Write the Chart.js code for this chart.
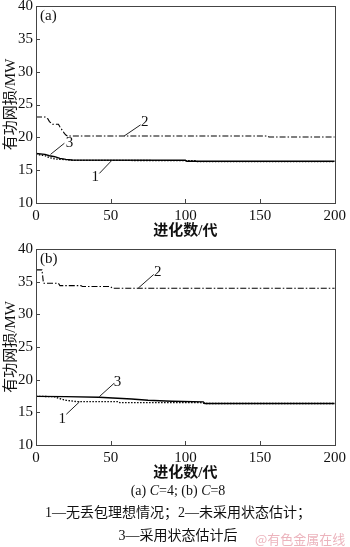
<!DOCTYPE html>
<html>
<head>
<meta charset="utf-8">
<script src="https://cdn.jsdelivr.net/npm/chart.js@4.4.0/dist/chart.umd.min.js"></script>
<style>
body { margin: 0; background: #fff; width: 350px; height: 547px; overflow: hidden; position: relative; }
canvas { position: absolute; left: 0; }
.cap { position: absolute; left: 0; width: 356px; text-align: center; font-family: 'Liberation Serif', 'Noto Sans CJK SC', serif; font-size: 14px; color: #111; line-height: 18px; white-space: nowrap; }
.mark { position: absolute; left: 255px; top: 529px; font-family: 'Noto Sans CJK SC', sans-serif; font-size: 13px; color: #ecb4bd; }
</style>
</head>
<body>
<canvas id="chartA" width="350" height="253" style="top:-10px"></canvas>
<canvas id="chartB" width="350" height="252" style="top:233px"></canvas>
<div class="cap" style="top:482px">(a) <i>C</i>=4; (b) <i>C</i>=8</div>
<div class="cap" style="top:504px">1—无丢包理想情况；2—未采用状态估计；</div>
<div class="cap" style="top:527px">3—采用状态估计后</div>
<div class="mark">@有色金属在线</div>
<script>
const ticksX = [0, 50, 100, 150, 200];
const ticksY = [10, 15, 20, 25, 30, 35, 40];

// (a) C=4
const genA1 = [0, 3, 6, 9, 13, 20, 25, 107, 108, 200];
const lossA1 = [17.5, 17.3, 17.2, 16.9, 16.7, 16.6, 16.5, 16.45, 16.3, 16.3];
const genA2 = [0, 6, 8, 9, 11, 15, 16, 17.5, 19, 20, 21, 155, 156, 200];
const lossA2 = [23.1, 23.1, 22.8, 22.4, 22.0, 22.0, 21.6, 21.1, 20.6, 20.35, 20.2, 20.2, 20.05, 20.05];
const genA3 = [0, 6, 9, 12.5, 16, 20, 24, 100, 101, 200];
const lossA3 = [17.55, 17.4, 17.2, 17.05, 16.8, 16.65, 16.55, 16.5, 16.35, 16.35];

// (b) C=8
const genB1 = [0, 12, 15, 20, 27, 55, 56, 110, 113, 200];
const lossB1 = [17.45, 17.4, 17.15, 16.85, 16.65, 16.65, 16.5, 16.5, 16.35, 16.35];
const genB2 = [0, 4, 5, 15, 16, 30, 31, 50, 51, 200];
const lossB2 = [36.8, 36.8, 34.75, 34.75, 34.4, 34.4, 34.25, 34.25, 34.0, 34.0];
const genB3 = [0, 20, 42, 64, 75, 91, 112, 113, 200];
const lossB3 = [17.45, 17.4, 17.3, 17.05, 16.85, 16.7, 16.6, 16.35, 16.35];

// curve labels: text, label point, leader start, leader end (data units)
const notesA = [
    { text: '2', at: [72.8, 22.4], from: [59, 20.2], to: [70, 21.9] },
    { text: '3', at: [22.5, 19.1], from: [9.7, 17.4], to: [19, 19.1] },
    { text: '1', at: [39.7, 14.0], from: [42.4, 14.5], to: [50.8, 16.5] }
];
const notesB = [
    { text: '2', at: [81.5, 36.4], from: [68.4, 34.0], to: [78.8, 36.1] },
    { text: '3', at: [54.5, 19.7], from: [42.4, 17.4], to: [52.3, 19.45] },
    { text: '1', at: [17.5, 14.0], from: [20.3, 14.7], to: [29.1, 16.6] }
];

const serif = "'Liberation Serif', 'Noto Sans CJK SC', serif";

function pts(xs, ys) {
    return xs.map((x, i) => ({ x: x, y: ys[i] }));
}

const framePlugin = {
    id: 'frame',
    afterDatasetsDraw(chart, args, opts) {
        const { ctx, chartArea: a, scales: { x, y } } = chart;
        ctx.save();
        ctx.strokeStyle = '#444';
        ctx.lineWidth = 1;
        ctx.strokeRect(Math.round(a.left) + 0.5, Math.round(a.top) + 0.5, Math.round(a.right - a.left), Math.round(a.bottom - a.top));
        ctx.beginPath();
        ticksX.slice(1, -1).forEach(v => {
            const px = Math.round(x.getPixelForValue(v)) + 0.5;
            ctx.moveTo(px, a.bottom);
            ctx.lineTo(px, a.bottom - 4);
        });
        ticksY.slice(1, -1).forEach(v => {
            const py = Math.round(y.getPixelForValue(v)) + 0.5;
            ctx.moveTo(a.left, py);
            ctx.lineTo(a.left + 4, py);
        });
        ctx.stroke();

        ctx.strokeStyle = '#222';
        ctx.fillStyle = '#111';
        ctx.font = '15px ' + serif;
        ctx.textAlign = 'center';
        ctx.textBaseline = 'middle';
        opts.notes.forEach(n => {
            ctx.beginPath();
            ctx.moveTo(x.getPixelForValue(n.from[0]), y.getPixelForValue(n.from[1]));
            ctx.lineTo(x.getPixelForValue(n.to[0]), y.getPixelForValue(n.to[1]));
            ctx.stroke();
            ctx.fillText(n.text, x.getPixelForValue(n.at[0]), y.getPixelForValue(n.at[1]));
        });
        ctx.restore();
    }
};

function makeChart(id, series, notes, panel) {
    const ctx = document.getElementById(id).getContext('2d');
    return new Chart(ctx, {
        type: 'line',
        data: {
            datasets: [
                { label: '1', data: pts(series[0][0], series[0][1]), borderColor: '#000', borderWidth: 1.3, borderDash: [1.5, 1.5] },
                { label: '2', data: pts(series[1][0], series[1][1]), borderColor: '#000', borderWidth: 1.1, borderDash: [6, 2, 1.5, 2] },
                { label: '3', data: pts(series[2][0], series[2][1]), borderColor: '#000', borderWidth: 1.4 }
            ]
        },
        options: {
            responsive: false,
            animation: false,
            devicePixelRatio: 1,
            layout: { padding: { left: 0, right: 12, top: 16, bottom: 0 } },
            elements: { point: { radius: 0 }, line: { tension: 0 } },
            plugins: {
                legend: { display: false },
                tooltip: { enabled: false },
                frame: { notes: notes },
                panelTag: { text: panel }
            },
            scales: {
                x: {
                    type: 'linear',
                    min: 0,
                    max: 200,
                    afterBuildTicks: s => { s.ticks = ticksX.map(v => ({ value: v })); },
                    afterFit: s => { s.height = 40; },
                    grid: { display: false, drawTicks: false },
                    border: { display: false },
                    ticks: { padding: 4, color: '#111', font: { family: serif, size: 15 }, maxRotation: 0 },
                    title: { display: true, text: '进化数/代', color: '#111', font: { family: serif, size: 15, weight: 'bold' }, padding: { top: 0, bottom: 3 } }
                },
                y: {
                    min: 10,
                    max: 40,
                    afterBuildTicks: s => { s.ticks = ticksY.map(v => ({ value: v })); },
                    afterFit: s => { s.width = 36; },
                    grid: { display: false, drawTicks: false },
                    border: { display: false },
                    ticks: { padding: 3, color: '#111', font: { family: serif, size: 15 } },
                    title: { display: true, text: '有功网损/MW', color: '#111', font: { family: serif, size: 15 }, padding: { top: 2, bottom: 0 } }
                }
            }
        },
        plugins: [framePlugin, {
            id: 'panelTag',
            afterDraw(chart, args, opts) {
                const { ctx, chartArea: a } = chart;
                ctx.save();
                ctx.fillStyle = '#111';
                ctx.font = '15px ' + serif;
                ctx.textBaseline = 'middle';
                ctx.fillText(opts.text, a.left + 4, a.top + 10);
                ctx.restore();
            }
        }]
    });
}

makeChart('chartA', [[genA1, lossA1], [genA2, lossA2], [genA3, lossA3]], notesA, '(a)');
makeChart('chartB', [[genB1, lossB1], [genB2, lossB2], [genB3, lossB3]], notesB, '(b)');
</script>
</body>
</html>
